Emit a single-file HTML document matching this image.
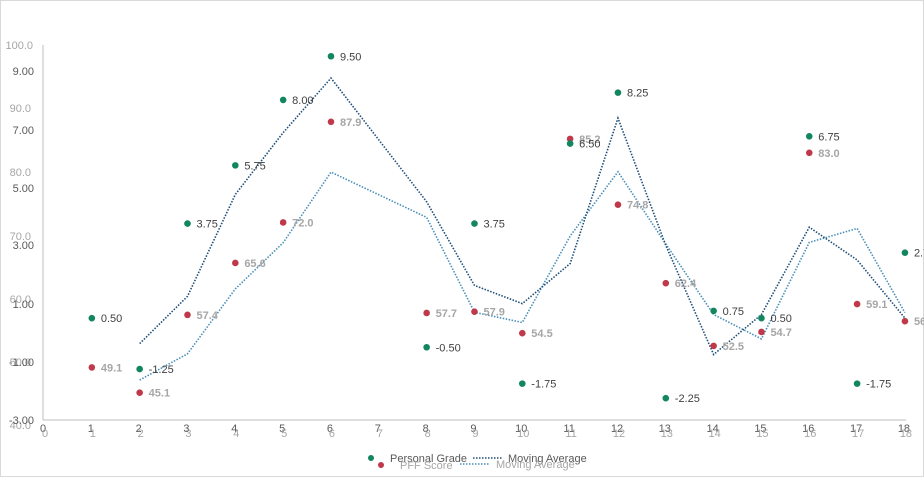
<!DOCTYPE html>
<html><head><style>body{margin:0;background:#fff}svg{display:block;font-family:"Liberation Sans",sans-serif}</style></head><body>
<svg width="924" height="477" viewBox="0 0 924 477" xmlns="http://www.w3.org/2000/svg">
<rect x="0.5" y="0.5" width="923" height="476" fill="#fff" stroke="#d9d9d9"/>
<line x1="43" y1="45" x2="43" y2="420" stroke="#bfbfbf"/>
<line x1="43" y1="420" x2="906" y2="420" stroke="#bfbfbf"/>
<g font-size="11" fill="#a6a6a6" text-anchor="end">
<text x="33" y="49">100.0</text><text x="31" y="112">90.0</text><text x="31" y="176">80.0</text><text x="31" y="240">70.0</text><text x="31" y="303">60.0</text><text x="31" y="366">50.0</text><text x="31" y="429">40.0</text>
</g>
<g font-size="11" fill="#595959" text-anchor="end">
<text x="34" y="75">9.00</text><text x="34" y="134">7.00</text><text x="34" y="192">5.00</text><text x="34" y="249">3.00</text><text x="34" y="308">1.00</text><text x="34" y="366">-1.00</text><text x="34" y="424">-3.00</text>
</g>
<g id="xt" font-size="11" text-anchor="middle"></g>
<g id="plot"></g>
<g font-size="11">
<circle cx="371" cy="458" r="3" fill="#12875f"/><text x="390" y="462" fill="#595959">Personal Grade</text>
<line x1="473" y1="458" x2="503" y2="458" stroke="#1f4e79" stroke-width="1.5" stroke-dasharray="1.5 1.5"/><text x="508" y="462" fill="#595959">Moving Average</text>
<circle cx="381" cy="465" r="3" fill="#c0394b"/><text x="400" y="469" fill="#a6a6a6">PFF Score</text>
<line x1="460" y1="464" x2="490" y2="464" stroke="#4a90b8" stroke-width="1.5" stroke-dasharray="1.5 1.5"/><text x="496" y="468" fill="#a6a6a6">Moving Average</text>
</g>
</svg>
<script>
const NS="http://www.w3.org/2000/svg";
const X=i=>44+i*47.83, GY=g=>420-(g+3)*29.1, PY=p=>425-(p-40)*6.33;
const xt=document.getElementById('xt'),pl=document.getElementById('plot');
function el(t,a,p,txt){const e=document.createElementNS(NS,t);for(const k in a)e.setAttribute(k,a[k]);if(txt!=null)e.textContent=txt;p.appendChild(e);return e;}
for(let i=0;i<=18;i++){el('text',{x:X(i)-1,y:432,fill:'#595959'},xt,i);el('text',{x:X(i)+1,y:437,fill:'#a6a6a6'},xt,i);}
const g={1:.5,2:-1.25,3:3.75,4:5.75,5:8,6:9.5,8:-.5,9:3.75,10:-1.75,11:6.5,12:8.25,13:-2.25,14:.75,15:.5,16:6.75,17:-1.75,18:2.75};
const p={1:49.1,2:45.1,3:57.4,4:65.6,5:72.0,6:87.9,8:57.7,9:57.9,10:54.5,11:85.2,12:74.8,13:62.4,14:52.5,15:54.7,16:83.0,17:59.1,18:56.4};
function ma(d,f){const ks=Object.keys(d).map(Number);let pts=[];for(let j=1;j<ks.length;j++){pts.push(X(ks[j])+','+f((d[ks[j]]+d[ks[j-1]])/2));}return pts.join(' ');}
el('polyline',{points:ma(p,PY),fill:'none',stroke:'#4a90b8','stroke-width':1.6,'stroke-dasharray':'1.5 1.5'},pl);
el('polyline',{points:ma(g,GY),fill:'none',stroke:'#1f4e79','stroke-width':1.6,'stroke-dasharray':'1.5 1.5'},pl);
for(const k in p){el('circle',{cx:X(k),cy:PY(p[k]),r:3.3,fill:'#c0394b'},pl);el('text',{x:X(k)+9,y:PY(p[k])+4,'font-size':11,fill:'#a6a6a6','font-weight':'bold'},pl,p[k].toFixed(1));}
for(const k in g){el('circle',{cx:X(k),cy:GY(g[k]),r:3.3,fill:'#12875f'},pl);el('text',{x:X(k)+9,y:GY(g[k])+4,'font-size':11,fill:'#404040'},pl,g[k].toFixed(2));}
</script>
</body></html>
